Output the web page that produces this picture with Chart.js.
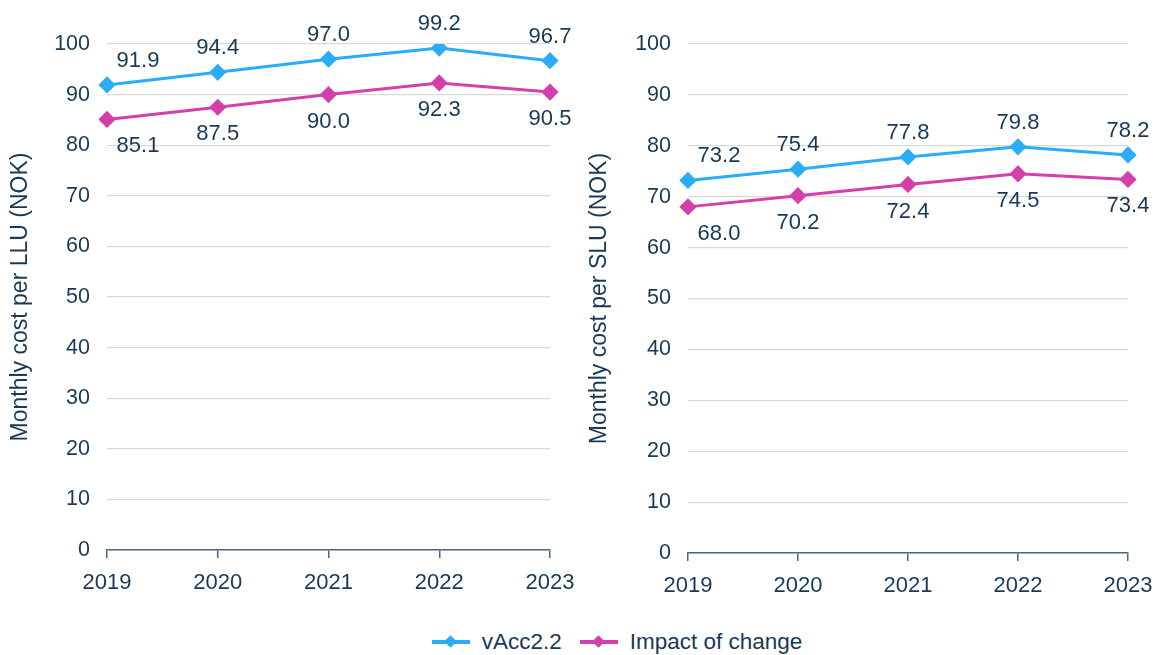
<!DOCTYPE html>
<html>
<head>
<meta charset="utf-8">
<script src="https://cdn.jsdelivr.net/npm/chart.js@4/dist/chart.umd.min.js"></script>
<style>
  html, body { margin: 0; padding: 0; background: #fff; }
  body { width: 1158px; height: 655px; overflow: hidden; font-family: "Liberation Sans", Arial, sans-serif; }
  .charts { display: flex; width: 1158px; height: 605px; }
  .box { position: relative; width: 579px; height: 605px; }
  .legend { display: flex; justify-content: center; align-items: center; height: 50px; margin-top: 12px; color: #183857; font-size: 22.5px; padding-left: 76px; }
  .item { display: flex; align-items: center; margin: 0 9px; }
  .swatch { position: relative; width: 38px; height: 4px; margin-right: 12px; }
  .swatch i { position: absolute; left: 14px; top: -3px; width: 9px; height: 9px; transform: rotate(45deg); }
</style>
</head>
<body>
<div class="charts">
  <div class="box"><canvas id="llu"></canvas></div>
  <div class="box"><canvas id="slu"></canvas></div>
</div>
<div class="legend" id="legend"></div>
<script>
  const years = ['2019', '2020', '2021', '2022', '2023'];
  const seriesNames = ['vAcc2.2', 'Impact of change'];
  const seriesColors = ['#2aacf6', '#d43fab'];

  const lluBase = [91.9, 94.4, 97.0, 99.2, 96.7];
  const lluImpact = [85.1, 87.5, 90.0, 92.3, 90.5];
  const sluBase = [73.2, 75.4, 77.8, 79.8, 78.2];
  const sluImpact = [68.0, 70.2, 72.4, 74.5, 73.4];

  const textColor = '#183857';
  const axisColor = '#4a6781';
  const fontFamily = '"Liberation Sans", Arial, sans-serif';

  // value labels: first series above the point, second below
  const valueLabels = {
    id: 'valueLabels',
    afterDatasetsDraw(chart) {
      const ctx = chart.ctx;
      ctx.save();
      ctx.font = '22px ' + fontFamily;
      ctx.fillStyle = textColor;
      ctx.textAlign = 'center';
      ctx.textBaseline = 'middle';
      chart.data.datasets.forEach((ds, di) => {
        chart.getDatasetMeta(di).data.forEach((pt, i) => {
          const dx = i === 0 ? 31 : 0;
          const dy = di === 0 ? -24 : 27;
          ctx.fillText(ds.data[i].toFixed(1), pt.x + dx, pt.y + dy);
        });
      });
      ctx.restore();
    }
  };

  function makeChart(id, base, impact, title, yWidth, xHeight, rightPad) {
    const ds = (label, data, color) => ({
      label, data,
      borderColor: color,
      backgroundColor: color,
      borderWidth: 3,
      pointStyle: 'rectRot',
      pointRadius: 6.5,
      pointHoverRadius: 6.5,
      tension: 0
    });
    return new Chart(document.getElementById(id), {
      type: 'line',
      data: {
        labels: years,
        datasets: [
          ds(seriesNames[0], base, seriesColors[0]),
          ds(seriesNames[1], impact, seriesColors[1])
        ]
      },
      options: {
        responsive: false,
        animation: false,
        layout: { padding: { top: 44, right: rightPad, left: 0, bottom: 0 } },
        plugins: { legend: { display: false }, tooltip: { enabled: false } },
        scales: {
          x: {
            offset: false,
            grid: { display: true, drawOnChartArea: false, drawTicks: true, tickLength: 8, color: axisColor, lineWidth: 1.5 },
            border: { display: true, color: axisColor, width: 1.5 },
            ticks: { color: textColor, font: { size: 22, family: fontFamily }, padding: 12, maxRotation: 0 },
            afterFit(scale) {
              scale.height = xHeight;
              // labels may overhang the edges; the layout padding handles that
              scale.paddingLeft = 0;
              scale.paddingRight = 0;
            }
          },
          y: {
            min: 0,
            max: 100,
            grid: { color: '#d9d9d9', lineWidth: 1.2, drawTicks: false },
            border: { display: false },
            ticks: { stepSize: 10, color: textColor, font: { size: 21.5, family: fontFamily }, padding: 17 },
            title: { display: true, text: title, color: textColor, font: { size: 23, family: fontFamily }, padding: { top: 7, bottom: 0 } },
            afterFit(scale) { scale.width = yWidth; }
          }
        }
      },
      plugins: [valueLabels]
    });
  }

  for (const id of ['llu', 'slu']) {
    const c = document.getElementById(id);
    c.width = 579; c.height = 605;
  }

  makeChart('llu', lluBase, lluImpact, 'Monthly cost per LLU (NOK)', 107, 55, 29);
  makeChart('slu', sluBase, sluImpact, 'Monthly cost per SLU (NOK)', 109, 52, 30);

  // shared legend under both panels
  const legend = document.getElementById('legend');
  seriesNames.forEach((name, i) => {
    const item = document.createElement('span');
    item.className = 'item';
    item.innerHTML = '<span class="swatch" style="background:' + seriesColors[i] + '"><i style="background:' + seriesColors[i] + '"></i></span>' + name;
    legend.appendChild(item);
  });
</script>
</body>
</html>
